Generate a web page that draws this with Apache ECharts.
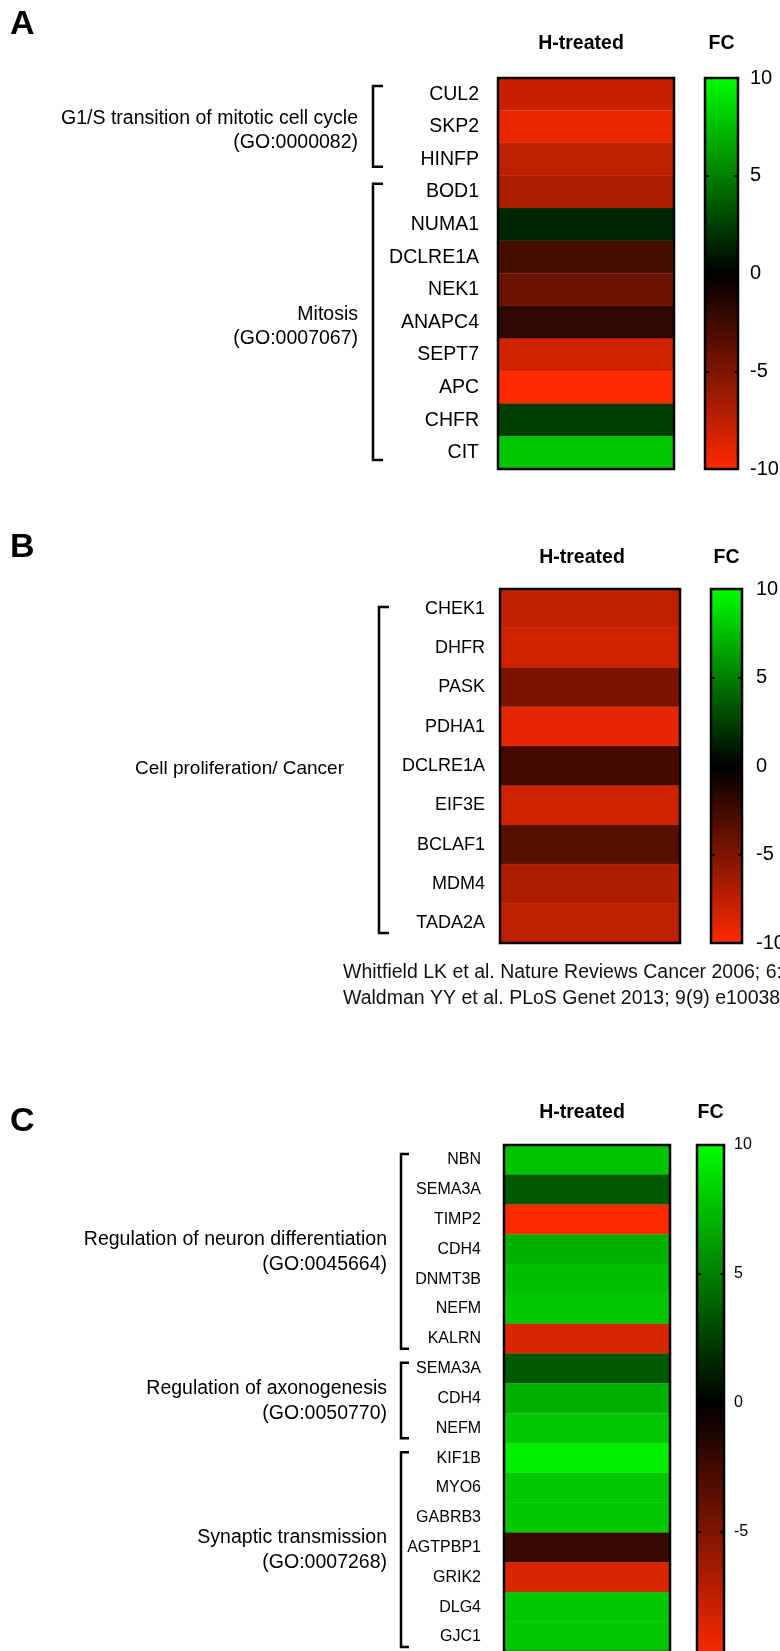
<!DOCTYPE html>
<html>
<head>
<meta charset="utf-8">
<script src="https://cdn.jsdelivr.net/npm/echarts@6/dist/echarts.min.js"></script>
<style>
  html, body { margin: 0; padding: 0; background: #fff; }
  #chart { width: 780px; height: 1651px; }
</style>
</head>
<body>
<div id="chart"></div>
<script>
// ---- data -------------------------------------------------------------
const columns = ['H-treated'];
const scaleTitle = 'FC';
const fcMin = -10, fcMax = 10, fcStep = 5;
const fcColors = ['#ff2a00', '#000000', '#00ff00'];   // low -> zero -> high

// Panel A: cell-cycle genes
const genesA = ['CUL2', 'SKP2', 'HINFP', 'BOD1', 'NUMA1', 'DCLRE1A', 'NEK1', 'ANAPC4', 'SEPT7', 'APC', 'CHFR', 'CIT'];
const fcA = [-7.8, -9.1, -7.4, -6.8, 1.5, -2.8, -4.2, -1.8, -8.2, -10, 2.3, 7.8];
const groupNamesA = [['G1/S transition of mitotic cell cycle', '(GO:0000082)'], ['Mitosis', '(GO:0007067)']];
const groupRowsA = [[0, 2], [3, 11]];

// Panel B: proliferation / cancer genes
const genesB = ['CHEK1', 'DHFR', 'PASK', 'PDHA1', 'DCLRE1A', 'EIF3E', 'BCLAF1', 'MDM4', 'TADA2A'];
const fcB = [-7.7, -8.1, -4.8, -9.0, -2.7, -8.2, -3.5, -6.8, -7.4];
const groupNamesB = [['Cell proliferation/ Cancer']];
const groupRowsB = [[0, 8]];
const referencesB = [
  'Whitfield LK et al. Nature Reviews Cancer 2006; 6: 99-106',
  'Waldman YY et al. PLoS Genet 2013; 9(9) e1003806'
];

// Panel C: neuronal genes
const genesC = ['NBN', 'SEMA3A', 'TIMP2', 'CDH4', 'DNMT3B', 'NEFM', 'KALRN', 'SEMA3A', 'CDH4', 'NEFM',
                'KIF1B', 'MYO6', 'GABRB3', 'AGTPBP1', 'GRIK2', 'DLG4', 'GJC1'];
const fcC = [7.7, 3.5, -10, 6.9, 7.5, 7.8, -8.5, 3.5, 6.9, 7.8, 9.4, 7.8, 7.8, -2.2, -8.5, 7.8, 7.8];
const groupNamesC = [['Regulation of neuron differentiation', '(GO:0045664)'],
                     ['Regulation of axonogenesis', '(GO:0050770)'],
                     ['Synaptic transmission', '(GO:0007268)']];
const groupRowsC = [[0, 6], [7, 9], [10, 16]];

// ---- layout -----------------------------------------------------------
const FONT = '"Liberation Sans", Arial, Helvetica, sans-serif';

const panels = [
  { tag: 'A', tagY: 25, genes: genesA, fc: fcA, names: groupNamesA, rows: groupRowsA,
    heat: [498, 78, 176, 391], bar: [705, 78, 33, 391],
    rowFont: 19.5, rowGap: 19, headFont: 19.5, headGap: 24, headShift: 10, tickFont: 20, tickGap: 12,
    bx: 373, foot: 10, inset: [8, 9], groupFont: 19.5, groupGap: 15, groupLH: 24, groupDy: 4 },
  { tag: 'B', tagY: 548, genes: genesB, fc: fcB, names: groupNamesB, rows: groupRowsB,
    heat: [500, 589, 180, 354], bar: [711, 589, 31, 354],
    rowFont: 18, rowGap: 15, headFont: 19.5, headGap: 21, headShift: 16, tickFont: 20, tickGap: 14,
    bx: 379, foot: 10, inset: [18, 10], groupFont: 19, groupGap: 35, groupLH: 24, groupDy: 3 },
  { tag: 'C', tagY: 1122, genes: genesC, fc: fcC, names: groupNamesC, rows: groupRowsC,
    heat: [504, 1145, 166, 507], bar: [697, 1145, 27, 515],
    rowFont: 16, rowGap: 23, headFont: 19.5, headGap: 22, headShift: 10, tickFont: 16, tickGap: 10,
    bx: 401, foot: 8, inset: [9, 5], groupFont: 19.5, groupGap: 14, groupLH: 25, groupDy: 3 }
];

// vertical gradient used to paint the colour scale (top = max)
const scaleFill = {
  type: 'linear', x: 0, y: 0, x2: 0, y2: 1,
  colorStops: fcColors.slice().reverse().map((c, i, a) => ({ offset: i / (a.length - 1), color: c }))
};

const option = {
  animation: false,
  backgroundColor: '#fff',
  textStyle: { fontFamily: FONT, color: '#000' },
  grid: [], xAxis: [], yAxis: [], series: [], visualMap: []
};

panels.forEach((p, k) => {
  const [hl, ht, hw, hh] = p.heat;
  const [bl, bt, bw, bh] = p.bar;
  // heatmap frame is drawn above the cells; grids keep their exact boxes
  option.grid.push({ left: hl, top: ht, width: hw, height: hh, show: true, z: 5,
    containLabel: false, outerBoundsMode: 'none',
    backgroundColor: 'transparent', borderColor: '#000', borderWidth: 2.5 });
  option.grid.push({ left: bl, top: bt, width: bw, height: bh, show: true,
    containLabel: false, outerBoundsMode: 'none',
    backgroundColor: scaleFill, borderColor: '#000', borderWidth: 2.5 });

  const headLabel = { fontFamily: FONT, fontWeight: 'bold', fontSize: p.headFont, color: '#000', margin: p.headGap };
  option.xAxis.push({ gridIndex: 2 * k, type: 'category', data: columns, position: 'top',
    axisLine: { show: false }, axisTick: { show: false }, splitLine: { show: false },
    axisLabel: Object.assign({}, headLabel, { padding: [0, p.headShift, 0, 0] }) });
  option.xAxis.push({ gridIndex: 2 * k + 1, type: 'category', data: [scaleTitle], position: 'top',
    axisLine: { show: false }, axisTick: { show: false }, axisLabel: headLabel, splitLine: { show: false } });

  option.yAxis.push({ gridIndex: 2 * k, type: 'category', data: p.genes, inverse: true,
    axisLine: { show: false }, axisTick: { show: false }, splitLine: { show: false },
    axisLabel: { interval: 0, fontFamily: FONT, fontSize: p.rowFont, color: '#000', margin: p.rowGap } });
  const tick = { show: true, inside: true, length: 4, lineStyle: { color: '#000', width: 2 } };
  option.yAxis.push({ gridIndex: 2 * k + 1, type: 'value', min: fcMin, max: fcMax, interval: fcStep,
    position: 'right', axisLine: { show: false }, axisTick: tick, splitLine: { show: false },
    axisLabel: { fontFamily: FONT, fontSize: p.tickFont, color: '#000', margin: p.tickGap } });
  option.yAxis.push({ gridIndex: 2 * k + 1, type: 'value', min: fcMin, max: fcMax, interval: fcStep,
    position: 'left', axisLine: { show: false }, axisTick: tick, splitLine: { show: false },
    axisLabel: { show: false } });

  option.series.push({ type: 'heatmap', xAxisIndex: 2 * k, yAxisIndex: 3 * k,
    data: p.fc.map((v, i) => [0, i, v]),
    itemStyle: { borderWidth: 1, borderColor: 'rgba(255,255,255,0.08)' },
    emphasis: { disabled: true } });
  option.visualMap.push({ type: 'continuous', show: false, seriesIndex: k, dimension: 2,
    min: fcMin, max: fcMax, inRange: { color: fcColors } });
});

const chart = echarts.init(document.getElementById('chart'), null, { renderer: 'canvas' });
chart.setOption(option);

// ---- brackets, group names, panel tags, references ---------------------
const graphics = [];
panels.forEach((p, k) => {
  const rowY = i => chart.convertToPixel({ yAxisIndex: 3 * k }, i);
  const band = Math.abs(rowY(1) - rowY(0));
  graphics.push({ type: 'text', x: 10, y: p.tagY,
    style: { text: p.tag, font: 'bold 34px ' + FONT, fill: '#000', verticalAlign: 'middle' } });
  p.rows.forEach(([from, to], g) => {
    const top = rowY(from) - band / 2 + p.inset[0];
    const bot = rowY(to) + band / 2 - p.inset[1];
    graphics.push({ type: 'polyline',
      shape: { points: [[p.bx + p.foot, top], [p.bx, top], [p.bx, bot], [p.bx + p.foot, bot]] },
      style: { stroke: '#000', lineWidth: 2.5, fill: null } });
    graphics.push({ type: 'text', x: p.bx - p.groupGap, y: (rowY(from) + rowY(to)) / 2 + p.groupDy,
      style: { text: p.names[g].join('\n'), font: p.groupFont + 'px ' + FONT, fill: '#000',
        align: 'right', verticalAlign: 'middle', lineHeight: p.groupLH } });
  });
});
referencesB.forEach((t, i) => {
  graphics.push({ type: 'text', x: 343, y: 973 + i * 26,
    style: { text: t, font: '19.5px ' + FONT, fill: '#111', verticalAlign: 'middle' } });
});
chart.setOption({ graphic: graphics });
</script>
</body>
</html>
